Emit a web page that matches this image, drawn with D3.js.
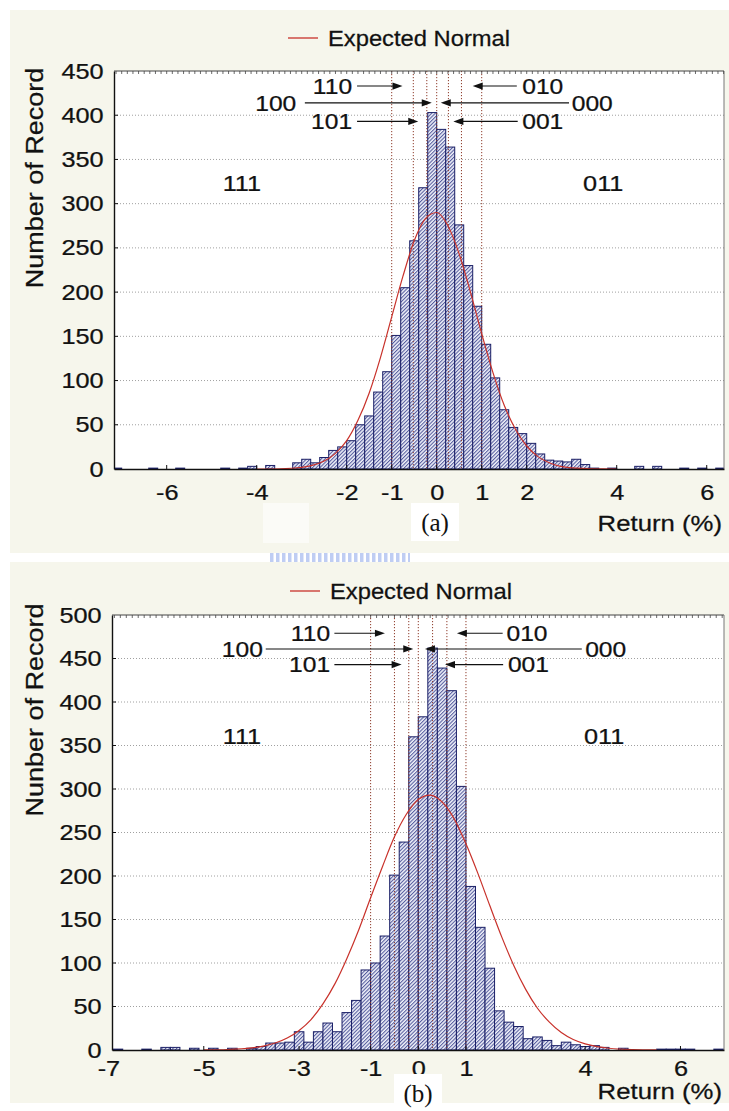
<!DOCTYPE html>
<html>
<head>
<meta charset="utf-8">
<script src="https://cdn.jsdelivr.net/npm/d3@7"></script>
<style>
  body { margin: 0; background: #fff; }
  svg { display: block; }
</style>
</head>
<body>
<svg id="fig" width="729" height="1111"></svg>
<script>
// ---------- data ----------
const BIN_WIDTH = 0.2;

// (a) histogram: lower edge of each 0.2% bin and its record count
const binsA = [-7.2, -6.4, -5.8, -4.8, -4.4, -4.2, -3.8,
  -3.2, -3.0, -2.8, -2.6, -2.4, -2.2, -2.0, -1.8, -1.6, -1.4, -1.2, -1.0, -0.8, -0.6, -0.4, -0.2,
  0.0, 0.2, 0.4, 0.6, 0.8, 1.0, 1.2, 1.4, 1.6, 1.8, 2.0, 2.2, 2.4, 2.6, 2.8, 3.0, 3.2, 3.4,
  3.8, 4.4, 4.8, 5.4, 5.8, 6.2];
const countsA = [1, 1, 1, 1, 1, 3, 4,
  7, 11, 7, 13, 21, 25, 32, 50, 60, 87, 110, 151, 205, 258, 318, 403,
  384, 364, 276, 230, 184, 141, 103, 67, 47, 40, 29, 17, 10, 9, 8, 11, 5, 1,
  1, 3, 3, 1, 1, 1];

// (b) histogram
const binsB = [-6.4, -5.8, -5.4, -5.2, -4.8, -4.4, -4.0, -3.6,
  -3.4, -3.2, -3.0, -2.8, -2.6, -2.4, -2.2, -2.0, -1.8, -1.6, -1.4, -1.2, -1.0, -0.8, -0.6, -0.4, -0.2,
  0.0, 0.2, 0.4, 0.6, 0.8, 1.0, 1.2, 1.4, 1.6, 1.8, 2.0, 2.2, 2.4, 2.6, 2.8, 3.0, 3.2, 3.4, 3.6, 3.8,
  4.2, 5.0, 5.2, 5.4, 5.6, 6.2];
const countsB = [1, 1, 3, 3, 2, 2, 2, 2,
  4, 8, 8, 9, 21, 9, 21, 31, 21, 43, 57, 92, 100, 131, 201, 239, 360,
  383, 462, 439, 413, 303, 188, 141, 94, 45, 32, 27, 13, 15, 11, 5, 9, 6, 4, 5, 3,
  2, 1, 1, 1, 1, 1];

// expected normal curves (return %, expected count)
const normXA = [-4, -3.5, -3, -2.75, -2.5, -2.25, -2, -1.75, -1.5, -1.25, -1, -0.75, -0.5, -0.25, 0,
  0.25, 0.5, 0.75, 1, 1.25, 1.5, 1.75, 2, 2.25, 2.5, 2.75, 3, 3.5, 4];
const normYA = [0, 0.3, 1.9, 4.3, 9, 17.7, 32, 55, 86, 126, 172, 218, 258, 283, 290,
  275, 243, 200, 153, 109, 72, 45, 26, 14, 7, 3, 1.3, 0.2, 0];
const normXB = [-4.5, -4, -3.5, -3.25, -3, -2.75, -2.5, -2.25, -2, -1.75, -1.5, -1.25, -1, -0.75, -0.5, -0.25, 0,
  0.25, 0.5, 0.75, 1, 1.25, 1.5, 1.75, 2, 2.25, 2.5, 2.75, 3, 3.25, 3.5, 3.75, 4, 4.5, 5];
const normYB = [0.1, 0.6, 2.4, 4.5, 8, 13.7, 22.5, 35, 53, 76, 105, 138, 175, 211, 245, 271, 288,
  293, 285, 266, 237, 203, 166, 130, 97.5, 70, 48, 32, 20, 12, 7, 3.9, 2, 0.5, 0.1];

// state boundaries (return %)
const cutsA = [-1, -0.52, -0.22, 0, 0.26, 0.55, 1];
const cutsB = [-1, -0.5, -0.2, 0, 0.3, 0.6, 1];

// axis ticks
const xTicksA = [-6, -4, -2, -1, 0, 1, 2, 4, 6];
const xTickLabelsA = ["-6", "-4", "-2", "-1", "0", "1", "2", "4", "6"];
const xTicksB = [-6.5, -4.5, -2.5, -1, 0, 1, 3.5, 5.5];
const xTickLabelsB = ["-7", "-5", "-3", "-1", "0", "1", "4", "6"];
const yTicksA = [0, 50, 100, 150, 200, 250, 300, 350, 400, 450];
const yTicksB = [0, 50, 100, 150, 200, 250, 300, 350, 400, 450, 500];

// state codes
const codes = ["110", "101", "100", "010", "001", "000"];
const regionCodes = ["111", "011"];

// ---------- layout ----------
const SANS = "'Liberation Sans', Arial, sans-serif";
const SERIF = "'Liberation Serif', 'Times New Roman', serif";
const INK = "#111";

const panels = [
  {
    bins: binsA, counts: countsA, normX: normXA, normY: normYA, cuts: cutsA,
    xTicks: xTicksA, xTickLabels: xTickLabelsA, yTicks: yTicksA, yMax: 450,
    yTitle: "Number of Record", tag: "(a)",
    bg: [10, 10, 719, 543],
    left: 114, right: 724, top: 71, bottom: 469,
    xDomain: [-7.171, 6.384],
    legend: { x1: 288, x2: 318, y: 38, tx: 328 },
    yTitlePos: { x: 43, y: 178 },
    xLabelPad: 15,
    tagPos: { x: 435, y: 522 }, unitPos: { x: 722, y: 523 },
    patches: [[263, 503, 46, 40]],
    // [text x, line start, arrow tip, y value] in data units
    ann: [[-1.88, -1.77, -0.76, 433], [-1.88, -1.77, -0.41, 393], [-3.12, -2.93, -0.11, 414],
          [1.9, 1.78, 0.8, 433], [1.9, 1.8, 0.37, 393], [3.0, 2.94, 0.09, 414]],
    regionPos: [[-4.33, 323], [3.7, 323]]
  },
  {
    bins: binsB, counts: countsB, normX: normXB, normY: normYB, cuts: cutsB,
    xTicks: xTicksB, xTickLabels: xTickLabelsB, yTicks: yTicksB, yMax: 500,
    yTitle: "Nunber of Record", tag: "(b)",
    bg: [10, 562, 719, 541],
    left: 112, right: 724, top: 615, bottom: 1050,
    xDomain: [-6.425, 6.413],
    legend: { x1: 290, x2: 320, y: 591, tx: 330 },
    yTitlePos: { x: 43, y: 710 },
    xLabelPad: 10,
    tagPos: { x: 418, y: 1093 }, unitPos: { x: 722, y: 1091 },
    patches: [],
    ann: [[-1.85, -1.76, -0.70, 479], [-1.85, -1.76, -0.35, 443], [-3.26, -3.2, -0.105, 461],
          [1.85, 1.77, 0.81, 479], [1.88, 1.78, 0.56, 443], [3.5, 3.43, 0.14, 461]],
    regionPos: [[-3.7, 361], [3.9, 361]]
  }
];

// ---------- drawing ----------
const svg = d3.select("#fig");
const defs = svg.append("defs");

// diagonal hatch used for the bars
const hatch = defs.append("pattern")
  .attr("id", "hatch").attr("patternUnits", "userSpaceOnUse")
  .attr("width", 2.6).attr("height", 2.6).attr("patternTransform", "rotate(45)");
hatch.append("rect").attr("width", 2.6).attr("height", 2.6).attr("fill", "#f0f2fa");
hatch.append("line").attr("x1", 0.6).attr("x2", 0.6).attr("y1", 0).attr("y2", 2.6)
  .attr("stroke", "#2b3385").attr("stroke-width", 0.85);

// pale stripes of the seal printed between the two panels
const seal = defs.append("pattern")
  .attr("id", "seal").attr("patternUnits", "userSpaceOnUse").attr("width", 6).attr("height", 6);
seal.append("rect").attr("width", 3.5).attr("height", 6).attr("fill", "#a9bcef");

// text stretched horizontally like the printed figure
function wideText(parent, x, y, str, opt = {}) {
  const sx = opt.sx ?? 1.15;
  const g = parent.append("g").attr("transform", `translate(${x},${y}) scale(${sx},1)`);
  g.append("text")
    .attr("text-anchor", opt.anchor || "start")
    .attr("dy", opt.dy || "0.35em")
    .style("font-family", opt.family || SANS)
    .style("font-size", (opt.size || 22) + "px")
    .attr("fill", INK).attr("stroke", INK).attr("stroke-width", 0.25)
    .text(str);
  return g;
}

svg.append("rect").attr("x", 270).attr("y", 546).attr("width", 140).attr("height", 17)
  .attr("fill", "url(#seal)").attr("opacity", 0.75);

panels.forEach((p, pi) => {
  const g = svg.append("g");

  g.append("rect").attr("x", p.bg[0]).attr("y", p.bg[1]).attr("width", p.bg[2]).attr("height", p.bg[3])
    .attr("fill", "#f6f6ec");
  p.patches.forEach(r => g.append("rect").attr("x", r[0]).attr("y", r[1]).attr("width", r[2])
    .attr("height", r[3]).attr("fill", "#fbfbf7"));

  const x = d3.scaleLinear().domain(p.xDomain).range([p.left, p.right]);
  const y = d3.scaleLinear().domain([0, p.yMax]).range([p.bottom, p.top]);

  const clipId = "plotclip" + pi;
  defs.append("clipPath").attr("id", clipId).append("rect")
    .attr("x", p.left).attr("y", p.top - 1).attr("width", p.right - p.left).attr("height", p.bottom - p.top + 1);

  g.append("rect").attr("x", p.left).attr("y", p.top).attr("width", p.right - p.left)
    .attr("height", p.bottom - p.top).attr("fill", "#fff");

  // horizontal grid
  g.append("g").selectAll("line").data(p.yTicks.filter(v => v > 0 && v < p.yMax)).join("line")
    .attr("x1", p.left).attr("x2", p.right).attr("y1", d => y(d)).attr("y2", d => y(d))
    .attr("stroke", "#a0a0a0").attr("stroke-width", 1).attr("stroke-dasharray", "1,2");

  const plot = g.append("g").attr("clip-path", `url(#${clipId})`);

  // histogram bars
  plot.append("g").selectAll("rect").data(p.bins.map((b, i) => ({ b, c: p.counts[i] }))).join("rect")
    .attr("x", d => x(d.b))
    .attr("width", d => x(d.b + BIN_WIDTH) - x(d.b))
    .attr("y", d => y(d.c))
    .attr("height", d => y(0) - y(d.c))
    .attr("fill", "url(#hatch)")
    .attr("stroke", "#1a1f66").attr("stroke-width", 1);

  // state boundaries
  plot.append("g").selectAll("line").data(p.cuts).join("line")
    .attr("x1", d => x(d)).attr("x2", d => x(d)).attr("y1", y(p.yMax)).attr("y2", y(0))
    .attr("stroke", "#8e3b2a").attr("stroke-width", 1).attr("stroke-dasharray", "1.2,1.8");

  // expected normal
  const line = d3.line().x(d => x(d[0])).y(d => y(d[1])).curve(d3.curveMonotoneX);
  plot.append("path").datum(p.normX.map((v, i) => [v, p.normY[i]]))
    .attr("d", line).attr("fill", "none").attr("stroke", "#c8312a").attr("stroke-width", 1.2);

  // frame: top and right
  g.append("line").attr("x1", p.left).attr("x2", p.right).attr("y1", p.top).attr("y2", p.top)
    .attr("stroke", "#444").attr("stroke-width", 1);
  g.append("line").attr("x1", p.right).attr("x2", p.right).attr("y1", p.top).attr("y2", p.bottom)
    .attr("stroke", "#777").attr("stroke-width", 1);
  const minor = d3.range(Math.ceil(p.xDomain[0] / 0.125) * 0.125, p.xDomain[1], 0.125);
  g.append("g").selectAll("line").data(minor).join("line")
    .attr("x1", d => x(d)).attr("x2", d => x(d)).attr("y1", p.top).attr("y2", p.top + 3)
    .attr("stroke", "#444").attr("stroke-width", 0.8);

  // x axis
  const xAxis = g.append("g").attr("transform", `translate(0,${p.bottom})`)
    .call(d3.axisBottom(x).tickValues(p.xTicks).tickFormat((d, i) => p.xTickLabels[i])
      .tickSizeOuter(0).tickSizeInner(0).tickPadding(p.xLabelPad));
  xAxis.select(".domain").attr("stroke", INK).attr("stroke-width", 1.4);
  xAxis.selectAll("text").attr("transform", "scale(1.15,1)")
    .style("font-size", "22px").style("font-family", SANS)
    .attr("fill", INK).attr("stroke", INK).attr("stroke-width", 0.25);
  g.append("g").selectAll("line").data(p.xTicks.filter(v => x(v) > p.left && x(v) < p.right)).join("line")
    .attr("x1", d => x(d)).attr("x2", d => x(d)).attr("y1", p.bottom).attr("y2", p.bottom - 4)
    .attr("stroke", INK);

  // y axis
  const yAxis = g.append("g").attr("transform", `translate(${p.left},0)`)
    .call(d3.axisLeft(y).tickValues(p.yTicks).tickSizeOuter(0).tickSizeInner(0).tickPadding(9));
  yAxis.select(".domain").attr("stroke", INK).attr("stroke-width", 1.4);
  yAxis.selectAll("text").attr("transform", "scale(1.15,1)")
    .style("font-size", "22px").style("font-family", SANS)
    .attr("fill", INK).attr("stroke", INK).attr("stroke-width", 0.25);
  g.append("g").selectAll("line").data(p.yTicks.filter(v => v > 0 && v < p.yMax)).join("line")
    .attr("x1", p.left).attr("x2", p.left + 4).attr("y1", d => y(d)).attr("y2", d => y(d))
    .attr("stroke", INK);

  // y title
  g.append("g").attr("transform", `translate(${p.yTitlePos.x},${p.yTitlePos.y}) rotate(-90) scale(1,0.88)`)
    .append("text").attr("text-anchor", "middle")
    .style("font-family", SANS).style("font-size", "27px")
    .attr("fill", INK).attr("stroke", INK).attr("stroke-width", 0.3)
    .text(p.yTitle);

  // legend
  g.append("line").attr("x1", p.legend.x1).attr("x2", p.legend.x2).attr("y1", p.legend.y).attr("y2", p.legend.y)
    .attr("stroke", "#c8312a").attr("stroke-width", 1.3);
  wideText(g, p.legend.tx, p.legend.y, "Expected Normal", { sx: 1.08 });

  // region codes
  regionCodes.forEach((c, i) => {
    wideText(g, x(p.regionPos[i][0]), y(p.regionPos[i][1]), c, { anchor: "middle" });
  });

  // state code annotations with arrows
  codes.forEach((c, i) => {
    const [tx, ls, tip, v] = p.ann[i];
    const yy = y(v), x0 = x(ls), x1 = x(tip);
    const dir = x1 > x0 ? 1 : -1;
    g.append("line").attr("x1", x0).attr("x2", x1 - dir * 4).attr("y1", yy).attr("y2", yy)
      .attr("stroke", INK).attr("stroke-width", 1.1);
    g.append("path")
      .attr("d", `M${x1},${yy} L${x1 - dir * 10},${yy - 3.6} L${x1 - dir * 10},${yy + 3.6} Z`)
      .attr("fill", INK);
    wideText(g, x(tx), yy, c, { anchor: dir > 0 ? "end" : "start", sx: 1.12 });
  });

  // caption tag on a white patch, and unit label
  g.append("rect").attr("x", p.tagPos.x - 24).attr("y", p.tagPos.y - 19).attr("width", 48).attr("height", 38)
    .attr("fill", "#fff");
  g.append("text").attr("x", p.tagPos.x).attr("y", p.tagPos.y).attr("dy", "0.35em")
    .attr("text-anchor", "middle").style("font-family", SERIF).style("font-size", "25px")
    .attr("fill", INK).text(p.tag);
  wideText(g, p.unitPos.x, p.unitPos.y, "Return (%)", { anchor: "end", sx: 1.17 });
});
</script>
</body>
</html>
